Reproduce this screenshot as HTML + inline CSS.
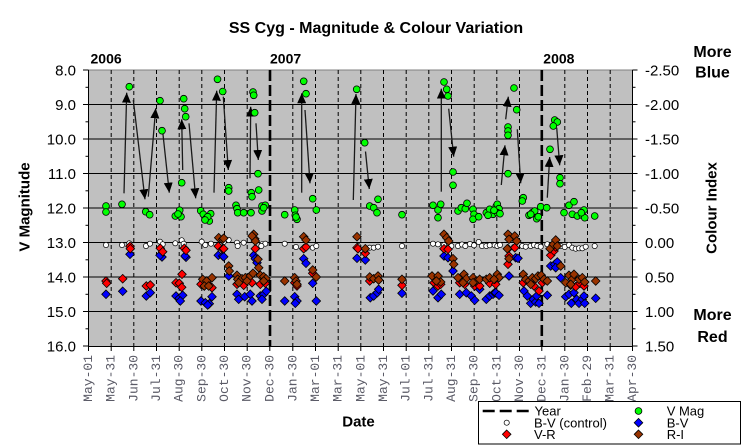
<!DOCTYPE html>
<html><head><meta charset="utf-8"><style>
html,body{margin:0;padding:0;background:#fff;}
svg{display:block;}
text{font-family:"Liberation Sans",Arial,sans-serif;}
.mono text{font-family:"Liberation Mono","Courier New",monospace;}
</style></head><body>
<svg width="747" height="448" viewBox="0 0 747 448" xmlns="http://www.w3.org/2000/svg">
<defs>
<path id="d" d="M0,-4.3L4.3,0L0,4.3L-4.3,0Z" stroke="#000" stroke-width="0.8"/>
<circle id="gc" r="3.4" fill="#00ff00" stroke="#000" stroke-width="0.8"/>
<circle id="wc" r="2.6" fill="#fff" stroke="#000" stroke-width="0.7"/>
<marker id="ah" markerWidth="10" markerHeight="9" refX="10" refY="4.5" orient="auto" markerUnits="userSpaceOnUse"><path d="M0,0L10,4.5L0,9Z" fill="#000"/></marker>
</defs>
<rect width="747" height="448" fill="#fff"/>
<rect x="88.5" y="70" width="544" height="276" fill="#c0c0c0"/>
<line x1="88.5" y1="70" x2="632.5" y2="70" stroke="#808080" stroke-width="1"/>
<g stroke="#000" stroke-width="1" stroke-dasharray="4,3">
<line x1="111.2" y1="70" x2="111.2" y2="346"/><line x1="133.8" y1="70" x2="133.8" y2="346"/><line x1="156.5" y1="70" x2="156.5" y2="346"/><line x1="179.2" y1="70" x2="179.2" y2="346"/><line x1="201.8" y1="70" x2="201.8" y2="346"/><line x1="224.5" y1="70" x2="224.5" y2="346"/><line x1="247.2" y1="70" x2="247.2" y2="346"/><line x1="292.8" y1="70" x2="292.8" y2="346"/><line x1="315.5" y1="70" x2="315.5" y2="346"/><line x1="338.2" y1="70" x2="338.2" y2="346"/><line x1="360.8" y1="70" x2="360.8" y2="346"/><line x1="383.5" y1="70" x2="383.5" y2="346"/><line x1="406.2" y1="70" x2="406.2" y2="346"/><line x1="428.8" y1="70" x2="428.8" y2="346"/><line x1="451.5" y1="70" x2="451.5" y2="346"/><line x1="474.2" y1="70" x2="474.2" y2="346"/><line x1="496.8" y1="70" x2="496.8" y2="346"/><line x1="519.5" y1="70" x2="519.5" y2="346"/><line x1="564.8" y1="70" x2="564.8" y2="346"/><line x1="587.5" y1="70" x2="587.5" y2="346"/><line x1="610.2" y1="70" x2="610.2" y2="346"/>
</g>
<g stroke="#000" stroke-width="1">
<line x1="88.5" y1="104.5" x2="632.5" y2="104.5"/><line x1="88.5" y1="139" x2="632.5" y2="139"/><line x1="88.5" y1="173.5" x2="632.5" y2="173.5"/><line x1="88.5" y1="208" x2="632.5" y2="208"/><line x1="88.5" y1="242.5" x2="632.5" y2="242.5"/><line x1="88.5" y1="277" x2="632.5" y2="277"/><line x1="88.5" y1="311.5" x2="632.5" y2="311.5"/>
</g>
<g stroke="#000" stroke-width="2.6" stroke-dasharray="11,4">
<line x1="270" y1="70" x2="270" y2="346"/><line x1="541.8" y1="70" x2="541.8" y2="346"/>
</g>
<g stroke="#000" stroke-width="1">
<line x1="88.5" y1="70" x2="88.5" y2="346.5"/>
<line x1="632.5" y1="70" x2="632.5" y2="346.5"/>
<line x1="88" y1="346.5" x2="633" y2="346.5"/>
<line x1="83" y1="70" x2="88.5" y2="70"/><line x1="83" y1="104.5" x2="88.5" y2="104.5"/><line x1="83" y1="139" x2="88.5" y2="139"/><line x1="83" y1="173.5" x2="88.5" y2="173.5"/><line x1="83" y1="208" x2="88.5" y2="208"/><line x1="83" y1="242.5" x2="88.5" y2="242.5"/><line x1="83" y1="277" x2="88.5" y2="277"/><line x1="83" y1="311.5" x2="88.5" y2="311.5"/><line x1="83" y1="346" x2="88.5" y2="346"/>
<line x1="85.5" y1="87.3" x2="88.5" y2="87.3"/><line x1="85.5" y1="121.8" x2="88.5" y2="121.8"/><line x1="85.5" y1="156.3" x2="88.5" y2="156.3"/><line x1="85.5" y1="190.8" x2="88.5" y2="190.8"/><line x1="85.5" y1="225.3" x2="88.5" y2="225.3"/><line x1="85.5" y1="259.8" x2="88.5" y2="259.8"/><line x1="85.5" y1="294.3" x2="88.5" y2="294.3"/><line x1="85.5" y1="328.8" x2="88.5" y2="328.8"/>
<line x1="632.5" y1="70" x2="637.5" y2="70"/><line x1="632.5" y1="104.5" x2="637.5" y2="104.5"/><line x1="632.5" y1="139" x2="637.5" y2="139"/><line x1="632.5" y1="173.5" x2="637.5" y2="173.5"/><line x1="632.5" y1="208" x2="637.5" y2="208"/><line x1="632.5" y1="242.5" x2="637.5" y2="242.5"/><line x1="632.5" y1="277" x2="637.5" y2="277"/><line x1="632.5" y1="311.5" x2="637.5" y2="311.5"/><line x1="632.5" y1="346" x2="637.5" y2="346"/>
<line x1="632.5" y1="87.3" x2="635.5" y2="87.3"/><line x1="632.5" y1="121.8" x2="635.5" y2="121.8"/><line x1="632.5" y1="156.3" x2="635.5" y2="156.3"/><line x1="632.5" y1="190.8" x2="635.5" y2="190.8"/><line x1="632.5" y1="225.3" x2="635.5" y2="225.3"/><line x1="632.5" y1="259.8" x2="635.5" y2="259.8"/><line x1="632.5" y1="294.3" x2="635.5" y2="294.3"/><line x1="632.5" y1="328.8" x2="635.5" y2="328.8"/>
<line x1="88.5" y1="346" x2="88.5" y2="351"/><line x1="111.2" y1="346" x2="111.2" y2="351"/><line x1="133.8" y1="346" x2="133.8" y2="351"/><line x1="156.5" y1="346" x2="156.5" y2="351"/><line x1="179.2" y1="346" x2="179.2" y2="351"/><line x1="201.8" y1="346" x2="201.8" y2="351"/><line x1="224.5" y1="346" x2="224.5" y2="351"/><line x1="247.2" y1="346" x2="247.2" y2="351"/><line x1="269.8" y1="346" x2="269.8" y2="351"/><line x1="292.8" y1="346" x2="292.8" y2="351"/><line x1="315.5" y1="346" x2="315.5" y2="351"/><line x1="338.2" y1="346" x2="338.2" y2="351"/><line x1="360.8" y1="346" x2="360.8" y2="351"/><line x1="383.5" y1="346" x2="383.5" y2="351"/><line x1="406.2" y1="346" x2="406.2" y2="351"/><line x1="428.8" y1="346" x2="428.8" y2="351"/><line x1="451.5" y1="346" x2="451.5" y2="351"/><line x1="474.2" y1="346" x2="474.2" y2="351"/><line x1="496.8" y1="346" x2="496.8" y2="351"/><line x1="519.5" y1="346" x2="519.5" y2="351"/><line x1="541.8" y1="346" x2="541.8" y2="351"/><line x1="564.8" y1="346" x2="564.8" y2="351"/><line x1="587.5" y1="346" x2="587.5" y2="351"/><line x1="610.2" y1="346" x2="610.2" y2="351"/><line x1="632.5" y1="346" x2="632.5" y2="351"/>
</g>
<g stroke="#1a1a1a" stroke-width="1.3" marker-end="url(#ah)" fill="none">
<line x1="124" y1="193.3" x2="126.7" y2="92.7"/>
<line x1="133.3" y1="100" x2="145" y2="199.3"/>
<line x1="148.3" y1="196.7" x2="155.7" y2="108.3"/>
<line x1="162.7" y1="131.7" x2="169.3" y2="192.7"/>
<line x1="182.7" y1="170" x2="181.7" y2="119.3"/>
<line x1="189" y1="123.3" x2="195.7" y2="198.3"/>
<line x1="214" y1="192.7" x2="216.7" y2="90.7"/>
<line x1="223.3" y1="96.7" x2="228.3" y2="170"/>
<line x1="250" y1="178.3" x2="250.7" y2="106.7"/>
<line x1="256" y1="123.3" x2="258.3" y2="160"/>
<line x1="301.7" y1="192.7" x2="301.7" y2="93.3"/>
<line x1="305" y1="110" x2="310" y2="183.3"/>
<line x1="353.3" y1="200" x2="356" y2="94"/>
<line x1="365.5" y1="151.5" x2="369.3" y2="189"/>
<line x1="441.3" y1="191.7" x2="441.3" y2="88.7"/>
<line x1="448.7" y1="108.7" x2="453.7" y2="156.7"/>
<line x1="501.3" y1="185" x2="505" y2="145.3"/>
<line x1="505.7" y1="119.3" x2="508.3" y2="96.7"/>
<line x1="517.3" y1="129.3" x2="520.7" y2="183.3"/>
<line x1="547.3" y1="197.7" x2="549.7" y2="157"/>
<line x1="556.7" y1="127.7" x2="559.7" y2="165.3"/>
</g>
<g>
<use href="#gc" x="129.3" y="86.7"/><use href="#gc" x="160" y="100.7"/><use href="#gc" x="162" y="130.7"/><use href="#gc" x="183.7" y="98.7"/><use href="#gc" x="184.7" y="108.7"/><use href="#gc" x="185.7" y="116.7"/><use href="#gc" x="181.7" y="182.7"/><use href="#gc" x="217.5" y="79.3"/><use href="#gc" x="222.7" y="91.5"/>
<use href="#gc" x="106" y="206"/><use href="#gc" x="106" y="212"/><use href="#gc" x="122" y="204.3"/><use href="#gc" x="145.7" y="211.7"/><use href="#gc" x="149.7" y="214.7"/><use href="#gc" x="179.7" y="210.3"/><use href="#gc" x="175.3" y="216"/><use href="#gc" x="181" y="216.7"/><use href="#gc" x="178" y="214"/><use href="#gc" x="200.7" y="210.7"/><use href="#gc" x="203.3" y="214.3"/><use href="#gc" x="206" y="218.7"/><use href="#gc" x="209.3" y="221"/><use href="#gc" x="210.7" y="213.7"/><use href="#gc" x="207.7" y="216.7"/><use href="#gc" x="205" y="220"/>
<use href="#gc" x="253" y="92"/><use href="#gc" x="253.7" y="95.3"/><use href="#gc" x="254.7" y="112.7"/><use href="#gc" x="258" y="173.7"/><use href="#gc" x="228.7" y="187.7"/><use href="#gc" x="228.7" y="191"/><use href="#gc" x="251.3" y="192.7"/><use href="#gc" x="252" y="196.7"/><use href="#gc" x="258.7" y="190"/><use href="#gc" x="236" y="205.3"/><use href="#gc" x="237" y="208.7"/><use href="#gc" x="237.7" y="212.7"/><use href="#gc" x="243.7" y="212.7"/><use href="#gc" x="251" y="212.7"/><use href="#gc" x="262" y="206"/><use href="#gc" x="265.3" y="205.3"/><use href="#gc" x="262" y="211"/><use href="#gc" x="263.7" y="207.7"/>
<use href="#gc" x="303.7" y="81.3"/><use href="#gc" x="306" y="93.7"/><use href="#gc" x="312.7" y="198.7"/><use href="#gc" x="316.3" y="210"/><use href="#gc" x="284.7" y="214.7"/><use href="#gc" x="294.7" y="210"/><use href="#gc" x="295.3" y="215.3"/><use href="#gc" x="297" y="219.3"/><use href="#gc" x="296" y="217"/><use href="#gc" x="356.7" y="89.3"/>
<use href="#gc" x="364.7" y="142.7"/><use href="#gc" x="369.7" y="206"/><use href="#gc" x="373.7" y="207.7"/><use href="#gc" x="377" y="212.7"/><use href="#gc" x="378" y="199.3"/><use href="#gc" x="402" y="214.7"/><use href="#gc" x="444" y="82"/><use href="#gc" x="446.7" y="89.3"/><use href="#gc" x="448" y="96"/><use href="#gc" x="453" y="172"/><use href="#gc" x="453" y="185.3"/><use href="#gc" x="433" y="205.3"/><use href="#gc" x="438" y="210"/><use href="#gc" x="440.7" y="204.3"/><use href="#gc" x="438" y="217.7"/>
<use href="#gc" x="458" y="211"/><use href="#gc" x="461.3" y="207.7"/><use href="#gc" x="465.3" y="208.7"/><use href="#gc" x="467" y="203.3"/><use href="#gc" x="473" y="209.3"/><use href="#gc" x="474" y="214.3"/><use href="#gc" x="473" y="219.3"/><use href="#gc" x="478.7" y="216.7"/><use href="#gc" x="486.3" y="212.7"/><use href="#gc" x="489.7" y="209.3"/><use href="#gc" x="493" y="214.3"/><use href="#gc" x="496.3" y="206"/><use href="#gc" x="488" y="215.3"/>
<use href="#gc" x="514" y="88"/><use href="#gc" x="516.7" y="109.7"/><use href="#gc" x="508" y="127"/><use href="#gc" x="508" y="131"/><use href="#gc" x="508" y="135.3"/><use href="#gc" x="508" y="173.7"/><use href="#gc" x="497.3" y="204.3"/><use href="#gc" x="499" y="208.7"/><use href="#gc" x="497.3" y="212.7"/><use href="#gc" x="500" y="213.7"/><use href="#gc" x="494" y="210.3"/><use href="#gc" x="523.3" y="197.7"/><use href="#gc" x="522.3" y="201"/>
<use href="#gc" x="529" y="215.3"/><use href="#gc" x="532.3" y="212.7"/><use href="#gc" x="534.7" y="211"/><use href="#gc" x="536.7" y="218.7"/><use href="#gc" x="538.3" y="216.7"/><use href="#gc" x="540.7" y="206.7"/><use href="#gc" x="546.7" y="207.7"/><use href="#gc" x="530.7" y="214.3"/><use href="#gc" x="550" y="149.3"/><use href="#gc" x="554.7" y="120"/><use href="#gc" x="557.3" y="122"/><use href="#gc" x="553.3" y="126"/><use href="#gc" x="560" y="177.7"/><use href="#gc" x="560" y="183.7"/>
<use href="#gc" x="564" y="212.7"/><use href="#gc" x="569" y="205.3"/><use href="#gc" x="574" y="201.7"/><use href="#gc" x="572.3" y="214.3"/><use href="#gc" x="577.3" y="216"/><use href="#gc" x="582.3" y="215.3"/><use href="#gc" x="584" y="210"/><use href="#gc" x="584.7" y="217.7"/><use href="#gc" x="594.7" y="216"/><use href="#gc" x="581.3" y="212.7"/>
</g>
<g>
<use href="#wc" x="106" y="245"/><use href="#wc" x="122" y="245"/><use href="#wc" x="129.3" y="243.3"/><use href="#wc" x="146" y="246"/><use href="#wc" x="150" y="243.7"/><use href="#wc" x="160" y="241.7"/><use href="#wc" x="162.7" y="244.3"/><use href="#wc" x="175.3" y="243.3"/><use href="#wc" x="181.7" y="240.3"/><use href="#wc" x="183.7" y="243.7"/><use href="#wc" x="201.7" y="241.7"/><use href="#wc" x="205.3" y="245"/><use href="#wc" x="211" y="243.7"/>
<use href="#wc" x="223.7" y="242"/><use href="#wc" x="228.7" y="240"/><use href="#wc" x="237" y="242.7"/><use href="#wc" x="237.7" y="246"/><use href="#wc" x="243.7" y="242.7"/><use href="#wc" x="262" y="244.3"/><use href="#wc" x="265.3" y="243.7"/><use href="#wc" x="261.3" y="246"/><use href="#wc" x="284.7" y="243.7"/><use href="#wc" x="296" y="247"/><use href="#wc" x="312.7" y="247.7"/><use href="#wc" x="316.3" y="246"/>
<use href="#wc" x="358" y="246"/><use href="#wc" x="369.7" y="247.7"/><use href="#wc" x="373.7" y="247.7"/><use href="#wc" x="378" y="246.7"/><use href="#wc" x="402" y="246"/><use href="#wc" x="433" y="243.7"/><use href="#wc" x="438" y="244.3"/><use href="#wc" x="444" y="245"/><use href="#wc" x="451.3" y="246"/><use href="#wc" x="458" y="246"/><use href="#wc" x="462" y="244.5"/><use href="#wc" x="465.3" y="246"/><use href="#wc" x="470" y="244"/><use href="#wc" x="474" y="245.3"/><use href="#wc" x="478.7" y="242"/><use href="#wc" x="482" y="246"/><use href="#wc" x="486.3" y="246"/><use href="#wc" x="489.7" y="245.3"/><use href="#wc" x="494.7" y="245.3"/>
<use href="#wc" x="497.3" y="246"/><use href="#wc" x="500" y="245"/><use href="#wc" x="514" y="247"/><use href="#wc" x="522.3" y="246"/><use href="#wc" x="525.7" y="246.7"/><use href="#wc" x="530.7" y="246"/><use href="#wc" x="534" y="245"/><use href="#wc" x="537.3" y="246"/><use href="#wc" x="540.7" y="246.7"/><use href="#wc" x="547.3" y="244.3"/><use href="#wc" x="551.3" y="246"/><use href="#wc" x="555.7" y="246"/><use href="#wc" x="560.7" y="246"/><use href="#wc" x="564.7" y="247"/><use href="#wc" x="569" y="245"/><use href="#wc" x="572.3" y="247.7"/><use href="#wc" x="575.7" y="248.7"/><use href="#wc" x="579" y="248.3"/><use href="#wc" x="582.3" y="248.3"/><use href="#wc" x="585.7" y="246.7"/><use href="#wc" x="594.7" y="246"/>
</g>
<g fill="#0000ff">
<use href="#d" x="106" y="294.3"/><use href="#d" x="122.7" y="291.3"/><use href="#d" x="130" y="254.3"/><use href="#d" x="146.3" y="296"/><use href="#d" x="150.3" y="292.7"/><use href="#d" x="162" y="257"/><use href="#d" x="160" y="255.3"/><use href="#d" x="176" y="296"/><use href="#d" x="179.3" y="298.3"/><use href="#d" x="182.7" y="295.3"/><use href="#d" x="180.3" y="301"/><use href="#d" x="186" y="257.3"/><use href="#d" x="185" y="256"/><use href="#d" x="201" y="301"/><use href="#d" x="205.3" y="302.7"/><use href="#d" x="209.3" y="303.7"/><use href="#d" x="212" y="296.7"/><use href="#d" x="207.7" y="305"/><use href="#d" x="218.3" y="255.3"/><use href="#d" x="222.7" y="256"/>
<use href="#d" x="223.7" y="256.7"/><use href="#d" x="253.7" y="255.3"/><use href="#d" x="255.3" y="258.7"/><use href="#d" x="257" y="262.7"/><use href="#d" x="228.7" y="276"/><use href="#d" x="237" y="294.3"/><use href="#d" x="238.7" y="299.3"/><use href="#d" x="244.7" y="296.7"/><use href="#d" x="250.3" y="294.3"/><use href="#d" x="252" y="301"/><use href="#d" x="260.3" y="296"/><use href="#d" x="263.7" y="294.3"/><use href="#d" x="266.3" y="291.3"/><use href="#d" x="262" y="299.3"/>
<use href="#d" x="284.7" y="301"/><use href="#d" x="294.7" y="296.7"/><use href="#d" x="297" y="301"/><use href="#d" x="295.3" y="303.3"/><use href="#d" x="303.7" y="258.7"/><use href="#d" x="306" y="263.3"/><use href="#d" x="312.7" y="283.3"/><use href="#d" x="316.3" y="301"/><use href="#d" x="357" y="258.3"/>
<use href="#d" x="365.3" y="260"/><use href="#d" x="370.3" y="297.7"/><use href="#d" x="373.7" y="296"/><use href="#d" x="377.3" y="292.7"/><use href="#d" x="378.7" y="289.3"/><use href="#d" x="402" y="293.3"/><use href="#d" x="444" y="256"/><use href="#d" x="448" y="257.7"/><use href="#d" x="453" y="271"/><use href="#d" x="433" y="291"/><use href="#d" x="438" y="297.7"/><use href="#d" x="441.3" y="294.3"/>
<use href="#d" x="459.7" y="294.3"/><use href="#d" x="466.3" y="292.7"/><use href="#d" x="471.3" y="296"/><use href="#d" x="474.7" y="300.3"/><use href="#d" x="479.7" y="289.3"/><use href="#d" x="486.3" y="299.3"/><use href="#d" x="489.7" y="296"/><use href="#d" x="493" y="294.3"/><use href="#d" x="494.7" y="292.7"/>
<use href="#d" x="509" y="276"/><use href="#d" x="515.7" y="257.7"/><use href="#d" x="518" y="258.3"/><use href="#d" x="495.7" y="292.7"/><use href="#d" x="499" y="295.3"/><use href="#d" x="524" y="291"/><use href="#d" x="527.3" y="296"/><use href="#d" x="530.7" y="303.3"/><use href="#d" x="533.3" y="299.3"/><use href="#d" x="535.7" y="302"/><use href="#d" x="539" y="303.3"/><use href="#d" x="536.7" y="296"/><use href="#d" x="547.3" y="295.3"/>
<use href="#d" x="550.7" y="266"/><use href="#d" x="554.7" y="264.3"/><use href="#d" x="557.3" y="262"/><use href="#d" x="555.7" y="267.7"/><use href="#d" x="560.7" y="277.7"/><use href="#d" x="565.7" y="296.7"/><use href="#d" x="569" y="294.3"/><use href="#d" x="574" y="292.7"/><use href="#d" x="571.3" y="303.3"/><use href="#d" x="576.7" y="299.3"/><use href="#d" x="579" y="303.3"/><use href="#d" x="582.3" y="299.3"/><use href="#d" x="584.7" y="303.3"/><use href="#d" x="584" y="296"/><use href="#d" x="595.7" y="298.3"/>
</g>
<g fill="#ff0000">
<use href="#d" x="106" y="281"/><use href="#d" x="106.7" y="283.3"/><use href="#d" x="122.7" y="278.7"/><use href="#d" x="130" y="246.3"/><use href="#d" x="130.3" y="248.7"/><use href="#d" x="146.3" y="286"/><use href="#d" x="150.3" y="285"/><use href="#d" x="160.3" y="248.3"/><use href="#d" x="162.7" y="251.7"/><use href="#d" x="182" y="274.3"/><use href="#d" x="176" y="282.7"/><use href="#d" x="179.3" y="283.3"/><use href="#d" x="181.7" y="287.3"/><use href="#d" x="184.3" y="248.3"/><use href="#d" x="186" y="250.3"/>
<use href="#d" x="201" y="284.3"/><use href="#d" x="204.3" y="286"/><use href="#d" x="209.3" y="285.3"/><use href="#d" x="212" y="287.7"/><use href="#d" x="218.3" y="246.3"/><use href="#d" x="222.7" y="249"/>
<use href="#d" x="223.7" y="248.7"/><use href="#d" x="255.3" y="248.7"/><use href="#d" x="237" y="284.3"/><use href="#d" x="243.7" y="285.3"/><use href="#d" x="252" y="282.7"/><use href="#d" x="260.3" y="284.3"/><use href="#d" x="265.3" y="283.3"/><use href="#d" x="303.7" y="248.7"/><use href="#d" x="306" y="247"/><use href="#d" x="312.7" y="273.3"/><use href="#d" x="357" y="247.7"/><use href="#d" x="294.7" y="282.7"/><use href="#d" x="297" y="286"/>
<use href="#d" x="358" y="248.7"/><use href="#d" x="365.3" y="253.3"/><use href="#d" x="369.7" y="281"/><use href="#d" x="378" y="279.3"/><use href="#d" x="402" y="285.3"/><use href="#d" x="444" y="248.7"/><use href="#d" x="448" y="249.3"/><use href="#d" x="434" y="282.7"/><use href="#d" x="438" y="286"/><use href="#d" x="440.7" y="284.3"/><use href="#d" x="459.7" y="282.7"/><use href="#d" x="464.7" y="284.3"/><use href="#d" x="474.7" y="286"/><use href="#d" x="479.7" y="286"/><use href="#d" x="489.7" y="283.3"/>
<use href="#d" x="508" y="248.7"/><use href="#d" x="514.7" y="247.7"/><use href="#d" x="509" y="256"/><use href="#d" x="508" y="264.3"/><use href="#d" x="495.7" y="284.3"/><use href="#d" x="523.3" y="282.7"/><use href="#d" x="534" y="286"/><use href="#d" x="539" y="291"/><use href="#d" x="542.3" y="282.7"/><use href="#d" x="550.7" y="255.3"/><use href="#d" x="554" y="251"/><use href="#d" x="555.7" y="247"/><use href="#d" x="570.7" y="285.3"/><use href="#d" x="575.7" y="286.7"/><use href="#d" x="580" y="283.3"/><use href="#d" x="584" y="286"/>
</g>
<g fill="#993300">
<use href="#d" x="202.7" y="279.3"/><use href="#d" x="206.7" y="281"/><use href="#d" x="212" y="277.7"/><use href="#d" x="204.3" y="286"/><use href="#d" x="208.7" y="286"/><use href="#d" x="218.7" y="237.7"/><use href="#d" x="222.7" y="239.3"/>
<use href="#d" x="223.7" y="238.3"/><use href="#d" x="253.7" y="234.3"/><use href="#d" x="254.7" y="238.7"/><use href="#d" x="255.3" y="241"/><use href="#d" x="252" y="236"/><use href="#d" x="258" y="259.3"/><use href="#d" x="258.7" y="267.7"/><use href="#d" x="228.7" y="266"/><use href="#d" x="229.3" y="271"/>
<use href="#d" x="237" y="275.3"/><use href="#d" x="237.7" y="279.3"/><use href="#d" x="242" y="278.7"/><use href="#d" x="245.3" y="277.7"/><use href="#d" x="250.3" y="276"/><use href="#d" x="253" y="273.3"/><use href="#d" x="260.3" y="275.3"/><use href="#d" x="263.7" y="276.7"/><use href="#d" x="266" y="278.7"/><use href="#d" x="263.7" y="281"/><use href="#d" x="247" y="281"/><use href="#d" x="238.7" y="282.7"/>
<use href="#d" x="284.7" y="281"/><use href="#d" x="294.7" y="277.7"/><use href="#d" x="296" y="281"/><use href="#d" x="297" y="284.3"/><use href="#d" x="303.7" y="236.7"/><use href="#d" x="306" y="240"/><use href="#d" x="312.7" y="270"/><use href="#d" x="316.3" y="277"/><use href="#d" x="357" y="236.7"/>
<use href="#d" x="365.3" y="248.7"/><use href="#d" x="369.7" y="277"/><use href="#d" x="373.7" y="278.7"/><use href="#d" x="378" y="276"/><use href="#d" x="378.7" y="280"/><use href="#d" x="402" y="279.3"/><use href="#d" x="444" y="234.3"/><use href="#d" x="446.7" y="237.7"/><use href="#d" x="448.7" y="241"/><use href="#d" x="453" y="258.7"/><use href="#d" x="453.7" y="264.3"/><use href="#d" x="432" y="276"/><use href="#d" x="438" y="276"/><use href="#d" x="440.7" y="282"/><use href="#d" x="436.3" y="281"/>
<use href="#d" x="458" y="277.7"/><use href="#d" x="464" y="274.3"/><use href="#d" x="466.3" y="278.7"/><use href="#d" x="473" y="277.7"/><use href="#d" x="476.3" y="281"/><use href="#d" x="479.7" y="279.3"/><use href="#d" x="486.3" y="279.3"/><use href="#d" x="489.7" y="277.7"/><use href="#d" x="494.7" y="279.3"/><use href="#d" x="463" y="282.7"/><use href="#d" x="473" y="282.7"/>
<use href="#d" x="508" y="234.3"/><use href="#d" x="509" y="239.3"/><use href="#d" x="514.7" y="236"/><use href="#d" x="516.7" y="241"/><use href="#d" x="507.3" y="248.7"/><use href="#d" x="509" y="258.7"/><use href="#d" x="497.3" y="274.3"/><use href="#d" x="499" y="277.7"/><use href="#d" x="494" y="279.3"/>
<use href="#d" x="523.3" y="274.3"/><use href="#d" x="525.7" y="279.3"/><use href="#d" x="529" y="281"/><use href="#d" x="532.3" y="277.7"/><use href="#d" x="535.7" y="278.7"/><use href="#d" x="538" y="276"/><use href="#d" x="541.3" y="275.3"/><use href="#d" x="544" y="279.3"/><use href="#d" x="547.3" y="281"/><use href="#d" x="530.7" y="284.3"/>
<use href="#d" x="550" y="248.7"/><use href="#d" x="553.3" y="244.3"/><use href="#d" x="555.7" y="240"/><use href="#d" x="557.3" y="246"/><use href="#d" x="560.7" y="266"/><use href="#d" x="565.7" y="282.7"/><use href="#d" x="569" y="275.3"/><use href="#d" x="572.3" y="279.3"/><use href="#d" x="574" y="274.3"/><use href="#d" x="579" y="279.3"/><use href="#d" x="582.3" y="277.7"/><use href="#d" x="584.7" y="282"/><use href="#d" x="595.7" y="281"/><use href="#d" x="570.7" y="284.3"/>
</g>
<text x="376" y="33" font-size="16" font-weight="bold" text-anchor="middle" fill="#000">SS Cyg - Magnitude &amp; Colour Variation</text>
<g font-size="14" font-weight="bold" fill="#000">
<text x="90.5" y="63.5">2006</text>
<text x="270" y="63.5">2007</text>
<text x="543.3" y="63.5">2008</text>
</g>
<g font-size="16" font-weight="bold" fill="#000" text-anchor="middle">
<text x="712.5" y="57">More</text>
<text x="712.5" y="77.5">Blue</text>
<text x="712.5" y="320">More</text>
<text x="712.5" y="342">Red</text>
</g>
<g font-size="15" fill="#000" text-anchor="end">
<text x="76" y="75.3">8.0</text><text x="76" y="109.8">9.0</text><text x="76" y="144.3">10.0</text><text x="76" y="178.8">11.0</text><text x="76" y="213.3">12.0</text><text x="76" y="247.8">13.0</text><text x="76" y="282.3">14.0</text><text x="76" y="316.8">15.0</text><text x="76" y="351.3">16.0</text>
</g>
<g font-size="15" fill="#000">
<text x="645" y="75.3">-2.50</text><text x="645" y="109.8">-2.00</text><text x="645" y="144.3">-1.50</text><text x="645" y="178.8">-1.00</text><text x="645" y="213.3">-0.50</text><text x="645" y="247.8">0.00</text><text x="645" y="282.3">0.50</text><text x="645" y="316.8">1.00</text><text x="645" y="351.3">1.50</text>
</g>
<text transform="translate(29.5,207) rotate(-90)" font-size="15" font-weight="bold" text-anchor="middle" fill="#000">V Magnitude</text>
<text transform="translate(716.5,208) rotate(-90)" font-size="15" font-weight="bold" text-anchor="middle" fill="#000">Colour Index</text>
<text x="358.5" y="426.5" font-size="15" font-weight="bold" text-anchor="middle" fill="#000">Date</text>
<g class="mono" font-size="13" fill="#5a5a66" text-anchor="end">
<text transform="translate(92,355) rotate(-90)">May-01</text>
<text transform="translate(114.7,355) rotate(-90)">May-31</text>
<text transform="translate(137.3,355) rotate(-90)">Jun-30</text>
<text transform="translate(160,355) rotate(-90)">Jul-31</text>
<text transform="translate(182.7,355) rotate(-90)">Aug-30</text>
<text transform="translate(205.3,355) rotate(-90)">Sep-30</text>
<text transform="translate(228,355) rotate(-90)">Oct-30</text>
<text transform="translate(250.7,355) rotate(-90)">Nov-30</text>
<text transform="translate(273.3,355) rotate(-90)">Dec-30</text>
<text transform="translate(296.3,355) rotate(-90)">Jan-30</text>
<text transform="translate(319,355) rotate(-90)">Mar-01</text>
<text transform="translate(341.7,355) rotate(-90)">Mar-31</text>
<text transform="translate(364.3,355) rotate(-90)">May-01</text>
<text transform="translate(387,355) rotate(-90)">May-31</text>
<text transform="translate(409.7,355) rotate(-90)">Jul-01</text>
<text transform="translate(432.3,355) rotate(-90)">Jul-31</text>
<text transform="translate(455,355) rotate(-90)">Aug-31</text>
<text transform="translate(477.7,355) rotate(-90)">Sep-30</text>
<text transform="translate(500.3,355) rotate(-90)">Oct-31</text>
<text transform="translate(523,355) rotate(-90)">Nov-30</text>
<text transform="translate(545.3,355) rotate(-90)">Dec-31</text>
<text transform="translate(568.3,355) rotate(-90)">Jan-30</text>
<text transform="translate(591,355) rotate(-90)">Feb-29</text>
<text transform="translate(613.7,355) rotate(-90)">Mar-31</text>
<text transform="translate(636,355) rotate(-90)">Apr-30</text>
</g>
<rect x="478.5" y="401.5" width="262" height="42.5" fill="#fff" stroke="#000" stroke-width="1"/>
<line x1="482.7" y1="411" x2="532" y2="411" stroke="#000" stroke-width="2.6" stroke-dasharray="12,5"/>
<use href="#gc" x="638.5" y="411"/>
<use href="#wc" x="506.7" y="422.7"/>
<use href="#d" x="638.5" y="422.7" fill="#0000ff"/>
<use href="#d" x="506.7" y="434.3" fill="#ff0000"/>
<use href="#d" x="638.5" y="434.3" fill="#993300"/>
<g font-size="13" fill="#000">
<text x="534.5" y="415.5">Year</text>
<text x="534" y="427.3">B-V (control)</text>
<text x="534" y="439">V-R</text>
<text x="666.7" y="415.5">V Mag</text>
<text x="666.7" y="427.3">B-V</text>
<text x="666.7" y="439">R-I</text>
</g>
</svg>
</body></html>
